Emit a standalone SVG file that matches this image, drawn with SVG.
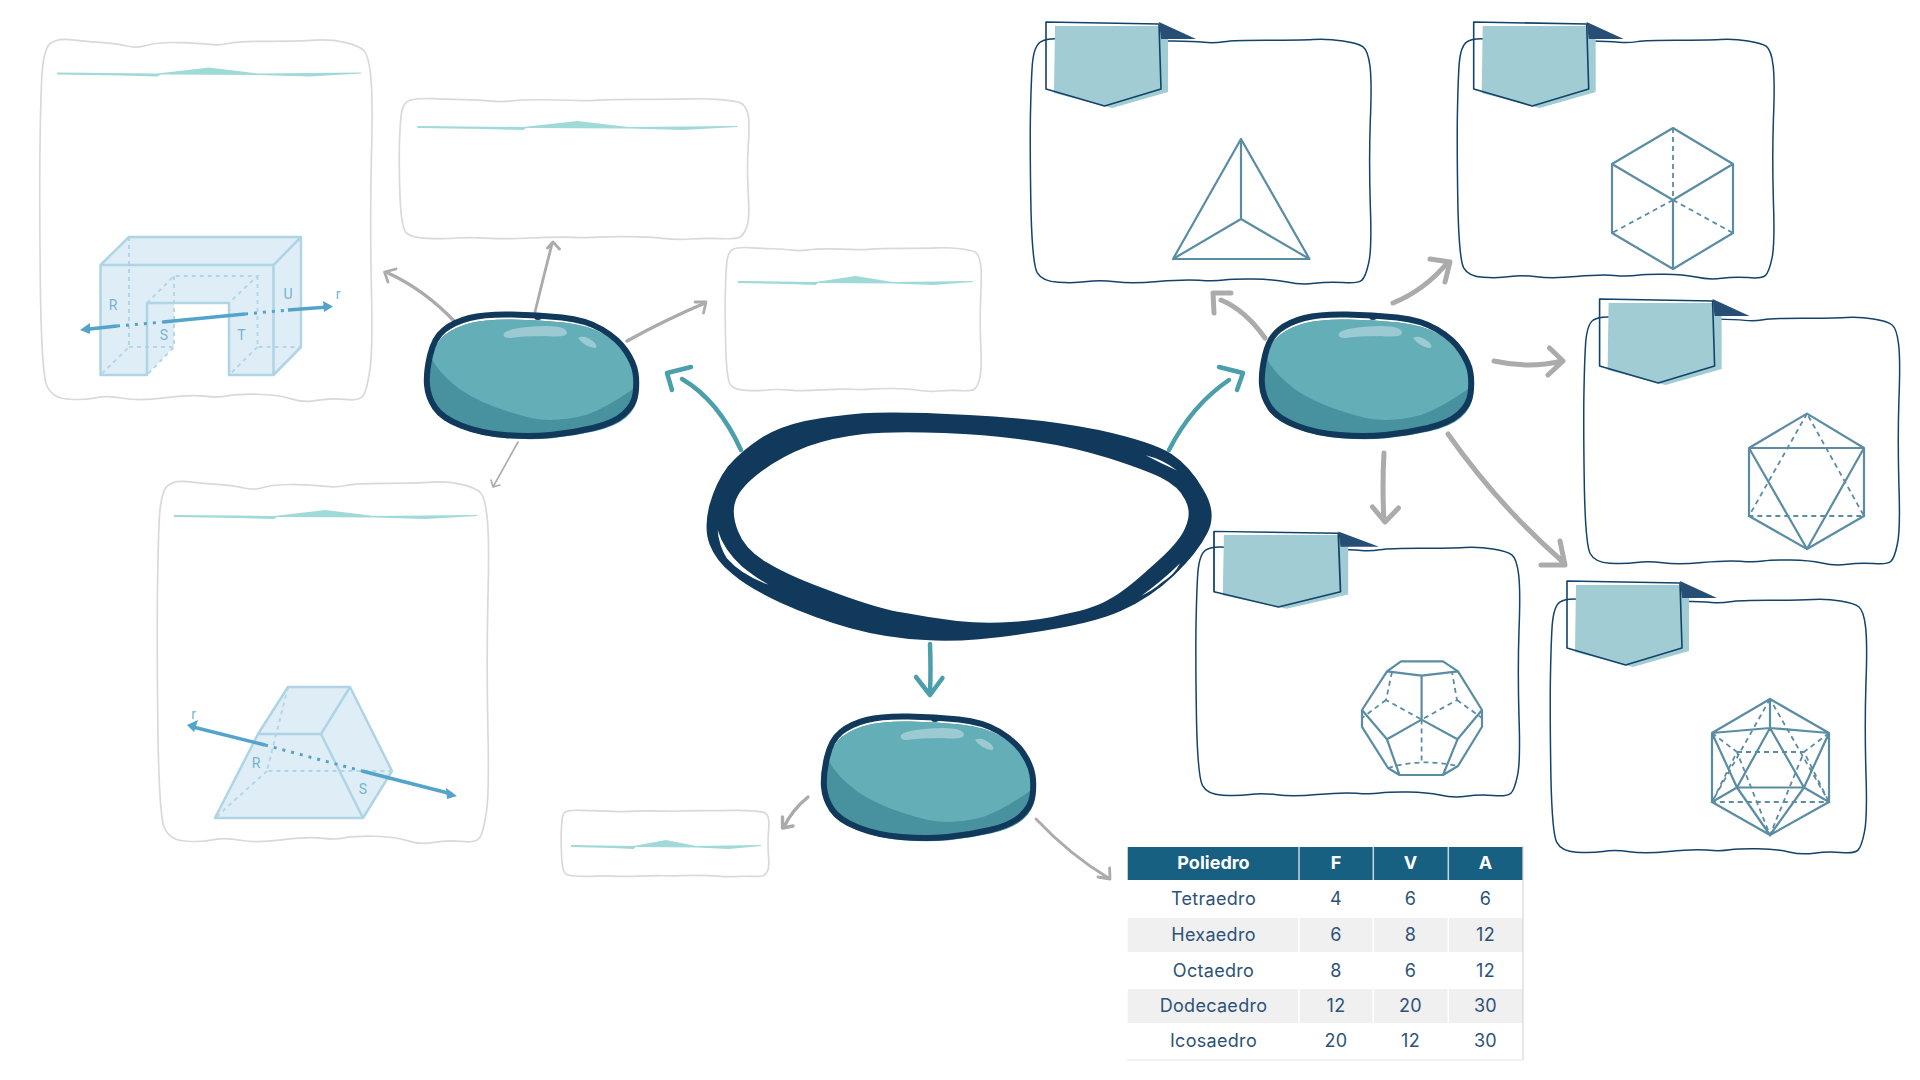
<svg xmlns="http://www.w3.org/2000/svg" width="1920" height="1080" viewBox="0 0 1920 1080">
<style>
#wob{vector-effect:non-scaling-stroke;fill:none;stroke-linejoin:round}
.lt{stroke:#d9d9d9;stroke-width:1.7}
.dk{stroke:#12436a;stroke-width:1.5}
.hl{fill:#9fdad8}
.sf{fill:#dfeef6;stroke:none}
.se{fill:none;stroke:#afd4e6;stroke-width:2.5;stroke-linejoin:round}
.sd{fill:none;stroke:#b4d7e8;stroke-width:2;stroke-dasharray:4 4}
.sa{fill:none;stroke:#53a3cb;stroke-width:3.5}
.sp{fill:none;stroke:#53a3cb;stroke-width:3;stroke-dasharray:3 6}
.sah{fill:#53a3cb}
.sl{font-family:Roboto,sans-serif;font-size:14px;fill:#74b4d2;text-anchor:middle}
.pl{fill:none;stroke:#5a8ca4;stroke-width:2.2;stroke-linejoin:round;stroke-linecap:round}
.pd{fill:none;stroke:#5a8ca4;stroke-width:1.8;stroke-dasharray:5 4}
.c{fill:none;stroke-linecap:round;stroke-linejoin:round}
.t{stroke:#4b9fab;stroke-width:4.5}
.g{stroke:#ababab}
.g1{stroke-width:1.6}.g2{stroke-width:2.8}.g3{stroke-width:3.4}.g5{stroke-width:5}
.h{font-family:Inter,"Liberation Sans",sans-serif;font-size:18px;font-weight:700;fill:#fff;text-anchor:middle}
.b{font-family:Inter,"Liberation Sans",sans-serif;font-size:18px;fill:#2c5278;text-anchor:middle;letter-spacing:.3px}
</style>
<defs>
<path id="wob" d="M91,4.5Q131,9 182,12Q233,15 262,22Q291,29 323,20Q356,11 418,12.5Q480,14 509,17.5Q538,21 567,15Q596,9 690,9Q785,9 828,6Q872,3 915,12Q959,21 973,35Q988,50 994,113Q1000,177 995,336Q991,495 995,677Q1000,859 990,913Q981,968 970,981Q959,995 915,990Q872,986 832,993Q792,1000 752,988Q712,977 654,976Q596,975 567,980Q538,986 494,981Q451,977 374,986Q298,995 250,987Q203,979 167,986Q131,993 83,989Q36,986 21,950Q7,914 3,704Q0,495 1,336Q3,177 7,104Q12,32 31,16Q51,0 91,4.5Z"/>
<path id="hdr" class="hl" d="M0,-1L330,0L500,-6L660,0L1000,-1V0L830,3L660,1.5L340,1L330,3L210,2L0,1Z"/>
<path id="blobshape" d="M4,42.5Q8,25 18,17Q28,9 43.5,5Q59,1 85.5,1.5Q112,2 136,4.5Q160,7 176,16.5Q192,26 200,38Q208,50 209.5,60Q211,70 209.5,81Q208,92 198,101Q188,110 167,115Q146,120 124.5,122Q103,124 78.5,122Q54,120 35,112.5Q16,105 9,94.5Q2,84 1,72Q0,60 4,42.5Z"/>
<clipPath id="blobclip"><use href="#blobshape" transform="translate(1,5) scale(1.005,.985)"/></clipPath>
<g id="blob">
<use href="#blobshape" fill="#48929f" transform="translate(1,5) scale(1.005,.985)"/>
<path fill="#64aeb8" clip-path="url(#blobclip)" d="M-5,-5H220V70L207,76Q180,95 160,102Q130,110 105,105Q60,94 35,77Q12,60 5,44L-5,44Z"/>
<path fill="#9ccad3" d="M78,20Q84,14 120,13Q141,13 141,20Q140,25 120,23Q95,23 84,25Q76,25 78,20ZM152,25Q158,21 168,29Q173,35 168,35Q158,33 152,25Z"/>
<use href="#blobshape" fill="none" stroke="#10395c" stroke-width="6"/>
<ellipse cx="112" cy="3.5" rx="4" ry="3.5" fill="#10395c"/>
</g>
<g id="tag">
<path fill="#a1ccd3" d="M9,4L113,4L122,17V70L66,86L8,71Z"/>
<path fill="none" stroke="#12436a" stroke-width="1.6" stroke-linejoin="round" d="M0,0L113,2L115,67L58.6,84L0,67Z"/>
<path fill="#274f76" d="M113,0L150,17H115Z"/>
</g>
</defs>
<rect width="1920" height="1080" fill="#fff"/>

<g id="connectors" class="c">
<path class="c t" d="M741,450Q718,400 682,379M691,367L667,373L672,390"/>
<path class="c t" d="M1169,450Q1192,405 1229,380M1219,367L1243,373L1237,390"/>
<path class="c t" d="M930,644Q931,670 930,692M916,677L930,695L942.5,678"/>
<path class="c g g3" d="M456,323Q425,290 388,273"/>
<path class="c g g2" d="M396,269L384.5,272L388,282"/>
<path class="c g g2" d="M535,312Q544,275 552,244M547.5,248L553,242L559.5,249"/>
<path class="c g g3" d="M627,341Q665,320 705,303"/>
<path class="c g g2" d="M695,302L706,302L703.5,313"/>
<path class="c g g1" d="M518,442L493,487M491,480L493,487L500,485"/>
<path class="c g g3" d="M808,797Q792,810 784,827M782.5,817L782.5,828L793,826"/>
<path class="c g g2" d="M1036,819Q1070,855 1108.5,878M1109.6,868L1110,879L1098,877"/>
<path class="c g g5" d="M1265,338Q1245,310 1221,300M1231,293L1213,293L1214,313"/>
<path class="c g g5" d="M1393,303Q1425,290 1448,262M1430,259L1450,262L1445,282"/>
<path class="c g g5" d="M1494,361Q1529,369 1562,361M1549.5,348L1563,361L1548,375"/>
<path class="c g g5" d="M1384,453Q1382,487 1384,521M1372.5,507L1385,522L1398.5,508"/>
<path class="c g g5" d="M1448,434Q1498,505 1562,561M1560,541L1565,565L1541,565"/>
</g>

<g id="node-center" transform="translate(960,527) scale(1.014,1.01) translate(-960,-527)">
<path fill="#10395c" fill-rule="evenodd" d="M864,414.5Q894,412 969,416Q1044,420 1097,431Q1151,443 1169,455Q1187,467 1200,490Q1214,513 1204,533Q1194,553 1171,575Q1148,597 1119,610Q1091,623 1028,632Q966,642 926,639Q887,637 851,627Q816,617 783,602Q751,587 735,573Q719,560 713,544Q707,528 713,505Q719,483 731,467Q744,452 762,440Q780,428 807,422Q834,417 864,414.5Z
M865,435Q894,432 944,434Q994,436 1033,442Q1073,448 1107,459Q1141,470 1158,478Q1176,487 1182,500Q1189,513 1182,528Q1176,543 1149,566Q1123,590 1108,598Q1094,607 1065,613Q1037,620 1010,621Q984,623 957,620Q930,617 905,612Q880,608 837,592Q794,577 771,563Q748,550 741,531Q734,513 739,500Q744,487 764,472Q784,457 810,447Q837,438 865,435Z"/>
<path fill="#fff" d="M1143,456Q1160,460 1174,471Q1158,464 1143,456ZM721,530Q727,550 745,566Q760,578 771,584Q745,575 730,558Q722,545 721,530ZM1177,563Q1172,574 1159,582Q1150,590 1139,595Q1160,580 1177,563Z"/>
</g>

<g id="node-left"><use href="#blob" x="426" y="313"/></g>
<g id="node-right"><use href="#blob" x="1261" y="313"/></g>
<g id="node-bottom"><use href="#blob" x="823" y="715"/></g>

<g id="box-a">
<use href="#wob" class="lt" transform="translate(39.5,38) scale(.3335,.365)"/>
<use href="#hdr" transform="translate(57,73.5) scale(.304,1)"/>
<path class="sf" d="M100.5,265L129,237H301V347L273.5,375H229V303H174V347L147,375H100.5Z"/>
<path class="sd" d="M129,237V347L100.5,375M129,347H174M147,303L174,276H257.5L229,303M174,276V347L147,375M257.5,276V347H301M257.5,347L229,375"/>
<path class="se" d="M100.5,265H273.5V375H229V303H147V375H100.5ZM100.5,265L129,237H301L273.5,265M301,237V347L273.5,375"/>
<path class="sa" d="M85,329.5L117,326M163,322L245,314M288,310L328,307"/>
<path class="sp" d="M117,326L163,322M245,314L288,310"/>
<path class="sah" d="M80,330L90,323L90,334ZM333,306.5L323,301L324,312Z"/>
<text class="sl" x="113" y="310">R</text><text class="sl" x="164" y="340">S</text><text class="sl" x="241.5" y="340">T</text><text class="sl" x="288" y="299">U</text><text class="sl" x="338" y="299">r</text>
</g>

<g id="box-b">
<use href="#wob" class="lt" transform="translate(399,98) scale(.351,.142)"/>
<use href="#hdr" transform="translate(417.5,127) scale(.32,1)"/>
</g>
<g id="box-c">
<use href="#wob" class="lt" transform="translate(725,247) scale(.257,.145)"/>
<use href="#hdr" transform="translate(738,282) scale(.235,1)"/>
</g>
<g id="box-d">
<use href="#wob" class="lt" transform="translate(157,480) scale(.3325,.365)"/>
<use href="#hdr" transform="translate(174,516) scale(.303,1)"/>
<path class="sf" d="M215,818L258,734L288,687H350L392,771L363,818Z"/>
<path class="sd" d="M288,687L267,771H392M267,771L215,818"/>
<path class="se" d="M215,818H363L321,734H258ZM258,734L288,687H350L321,734M350,687L392,771L363,818"/>
<path class="sa" d="M191,726.5L265,745M362,771L452,794"/>
<path class="sp" d="M265,745L362,771"/>
<path class="sah" d="M187,725L198,720L194,732ZM457,796L446,788L447,799Z"/>
<text class="sl" x="193.6" y="719">r</text><text class="sl" x="256" y="768">R</text><text class="sl" x="363" y="794">S</text>
</g>
<g id="box-e">
<use href="#wob" class="lt" transform="translate(561,810) scale(.2085,.067)"/>
<use href="#hdr" transform="translate(571,846) scale(.19,1)"/>
</g>

<g id="folder-tetra">
<use href="#wob" class="dk" transform="translate(1030,38) scale(.342,.247)"/>
<use href="#tag" x="1046" y="22"/>
<path class="pl" d="M1241,139L1173,259H1309.5ZM1241,139V219M1173,259L1241,219L1309.5,259"/>
</g>
<g id="folder-cube">
<use href="#wob" class="dk" transform="translate(1457,38) scale(.318,.242)"/>
<use href="#tag" x="1473.7" y="22"/>
<path class="pl" d="M1673,128L1733,164V233L1673,269L1612,233V164ZM1612,164L1673,200L1733,164M1673,200V269"/>
<path class="pd" d="M1673,128V200M1673,200L1612,233M1673,200L1733,233"/>
</g>
<g id="folder-octa">
<use href="#wob" class="dk" transform="translate(1583.5,316) scale(.317,.25)"/>
<use href="#tag" x="1599.6" y="299"/>
<path class="pl" d="M1807,413.6L1864,448V516L1807,549L1749,516V448ZM1749,448H1864M1749,448L1807,549L1864,448"/>
<path class="pd" d="M1807,413.6L1749,516H1864L1807,413.6"/>
</g>
<g id="folder-dodeca">
<use href="#wob" class="dk" transform="translate(1195.6,546) scale(.325,.252)"/>
<use href="#tag" transform="translate(1214,531.4) scale(1.1,.9)"/>
<path class="pl" d="M1401,661.4H1443L1458,671.4L1482,710V726.8L1458,766L1443,775H1399.5L1388,768L1362,726.8V710L1387,671.4ZM1387,671.4L1421.6,675.7L1458,671.4M1421.6,675.7V719.6M1387,739.3L1421.6,719.6L1457.5,739.3M1362,710L1387,739.3L1399.5,775M1482,710L1457.5,739.3L1443,775"/>
<path class="pd" d="M1392,672L1386,700L1421.6,719.6L1457,700L1452,672M1386,700L1362,718M1457,700L1482,718M1421.6,719.6V764M1388,768Q1421,758 1458,766"/>
</g>
<g id="folder-icosa">
<use href="#wob" class="dk" transform="translate(1550,598) scale(.3175,.257)"/>
<use href="#tag" x="1567" y="581"/>
<path class="pl" d="M1770,699L1829,733V802L1770,835L1712,802V733ZM1770,699V728M1712,733L1770,728L1829,733M1770,728L1737,787.5H1804ZM1712,733L1737,787.5L1712,802M1829,733L1804,787.5L1829,802M1737,787.5L1770,835L1804,787.5"/>
<path class="pd" d="M1770,699L1712,802H1829ZM1737,752H1804L1770,835ZM1712,733L1737,752L1712,802M1829,733L1804,752L1829,802"/>
</g>

<g id="table">
<rect x="1127.7" y="847" width="395" height="33" fill="#176082"/>
<rect x="1127.7" y="918" width="395" height="34" fill="#f0f0f0"/>
<rect x="1127.7" y="989" width="395" height="34" fill="#f0f0f0"/>
<path stroke="#fff" stroke-width="1.5" fill="none" d="M1299,918V952M1373.3,918V952M1448.3,918V952M1299,989V1023M1373.3,989V1023M1448.3,989V1023"/>
<path stroke="#c9d6dc" stroke-width="1.5" fill="none" d="M1299,847V880M1373.3,847V880M1448.3,847V880"/>
<path stroke="#cfcfcf" stroke-width="1" fill="none" d="M1523,846V1060"/>
<path stroke="#e6e6e6" stroke-width="1" fill="none" d="M1127,1060H1523"/>
<text class="h" x="1213.5" y="869">Poliedro</text><text class="h" x="1336" y="869">F</text><text class="h" x="1410.5" y="869">V</text><text class="h" x="1485.5" y="869">A</text>
<text class="b" x="1213.5" y="905">Tetraedro</text><text class="b" x="1336" y="905">4</text><text class="b" x="1410.5" y="905">6</text><text class="b" x="1485.5" y="905">6</text>
<text class="b" x="1213.5" y="941">Hexaedro</text><text class="b" x="1336" y="941">6</text><text class="b" x="1410.5" y="941">8</text><text class="b" x="1485.5" y="941">12</text>
<text class="b" x="1213.5" y="977">Octaedro</text><text class="b" x="1336" y="977">8</text><text class="b" x="1410.5" y="977">6</text><text class="b" x="1485.5" y="977">12</text>
<text class="b" x="1213.5" y="1012">Dodecaedro</text><text class="b" x="1336" y="1012">12</text><text class="b" x="1410.5" y="1012">20</text><text class="b" x="1485.5" y="1012">30</text>
<text class="b" x="1213.5" y="1047">Icosaedro</text><text class="b" x="1336" y="1047">20</text><text class="b" x="1410.5" y="1047">12</text><text class="b" x="1485.5" y="1047">30</text>
</g>
</svg>
